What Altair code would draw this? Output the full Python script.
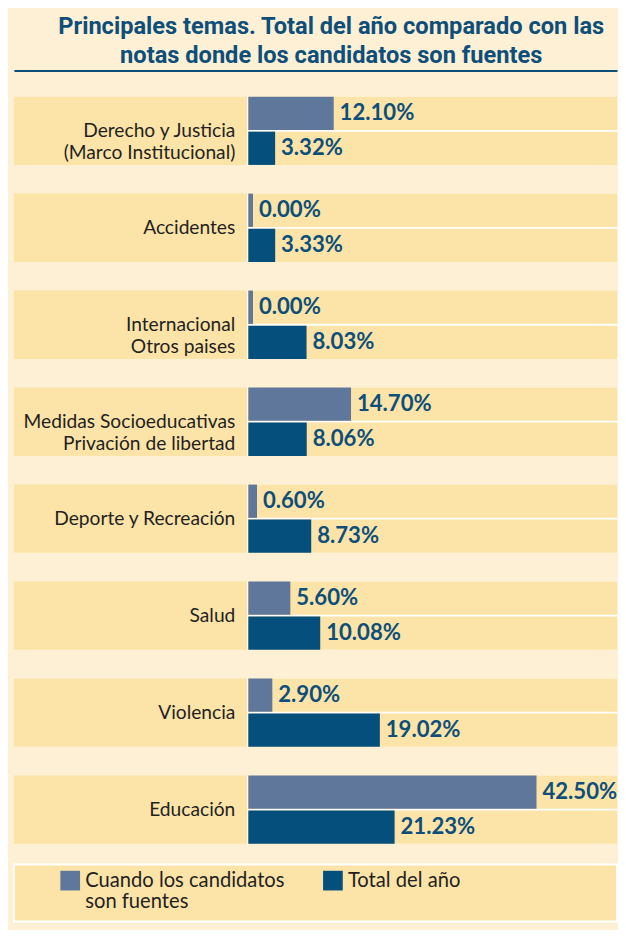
import altair as alt
import pandas as pd

# ---- data ----
categorias = [
    "Derecho y Justicia\n(Marco Institucional)",
    "Accidentes",
    "Internacional\nOtros paises",
    "Medidas Socioeducativas\nPrivación de libertad",
    "Deporte y Recreación",
    "Salud",
    "Violencia",
    "Educación",
]
series = ["Cuando los candidatos son fuentes", "Total del año"]
candidatos = [12.10, 0.00, 0.00, 14.70, 0.60, 5.60, 2.90, 42.50]
total_anio = [3.32, 3.33, 8.03, 8.06, 8.73, 10.08, 19.02, 21.23]

titulo = ["Principales temas. Total del año comparado con las",
          "notas donde los candidatos son fuentes"]

# ---- styles ----
BG_LIGHT = "#fdf0d4"
BAND = "#fce4a9"
C_CAND = "#5f779b"
C_TOTAL = "#044f7b"
BLUE = "#0d4f7a"
TXT = "#231f20"

rows = []
for c, a, b in zip(categorias, candidatos, total_anio):
    rows.append({"categoria": c, "serie": series[0], "valor": a})
    rows.append({"categoria": c, "serie": series[1], "valor": b})
df = pd.DataFrame(rows)
cats_df = pd.DataFrame({"categoria": categorias})

# x scale: negative part of the domain leaves room for the category labels
XMIN, XMAX = -35.84, 54.57
BASE = -0.7      # bar baseline (slightly left of zero so 0% shows a sliver)
CELL_END = -0.85 # end of the label cell
LABEL_X = -2.65

xs = alt.Scale(domain=[XMIN, XMAX], nice=False, zero=False)
AX = alt.Axis(orient="top", labels=False, ticks=False, grid=False,
              domainColor=BLUE, domainWidth=2, title=None)
Y = alt.Y("categoria:N", sort=categorias, axis=None,
          scale=alt.Scale(paddingInner=0.296, paddingOuter=0.236, align=0.57))
YO = alt.YOffset("serie:N", sort=series,
                 scale=alt.Scale(paddingInner=0.05, paddingOuter=0))

label_cell = alt.Chart(cats_df).mark_bar(color=BAND).encode(
    y=Y,
    x=alt.X(datum=XMIN, scale=xs, axis=AX),
    x2=alt.datum(CELL_END),
)
white_band = alt.Chart(cats_df).mark_bar(color="white").encode(
    y=Y,
    x=alt.X(datum=CELL_END, scale=xs, axis=AX),
    x2=alt.datum(XMAX),
)
bar_cells = alt.Chart(df).mark_bar(color=BAND).encode(
    y=Y, yOffset=YO,
    x=alt.X(datum=BASE, scale=xs, axis=AX),
    x2=alt.datum(XMAX),
)
bars = alt.Chart(df).mark_bar().encode(
    y=Y, yOffset=YO,
    x=alt.X("valor:Q", scale=xs, axis=AX),
    x2=alt.datum(BASE),
    color=alt.Color(
        "serie:N",
        scale=alt.Scale(domain=series, range=[C_CAND, C_TOTAL]),
        legend=alt.Legend(
            title=None, orient="none", legendX=47, legendY=813,
            direction="horizontal", columns=2, columnPadding=38, padding=0,
            symbolType="square", symbolSize=400, symbolStrokeWidth=0,
            symbolOpacity=1,
            labelFont="Lato", labelFontSize=20.5,
            labelColor=TXT, labelLimit=400, labelOffset=5,
            labelExpr="datum.label == 'Cuando los candidatos son fuentes' ? ['Cuando los candidatos', 'son fuentes'] : [datum.label, ' ']",
        ),
    ),
)
valores = alt.Chart(df).transform_calculate(
    etiqueta="format(datum.valor, '.2f') + '%'"
).mark_text(
    align="left", baseline="middle", dx=6, font="Lato", fontWeight="bold",
    fontSize=22.5, color=BLUE,
).encode(
    y=Y, yOffset=YO,
    x=alt.X("valor:Q", scale=xs, axis=AX),
    text="etiqueta:N",
)
etiquetas = alt.Chart(cats_df).mark_text(
    align="right", baseline="middle", lineBreak="\n", font="Lato",
    fontSize=19.5, color=TXT, lineHeight=23,
).encode(
    y=Y,
    x=alt.X(datum=LABEL_X, scale=xs, axis=AX),
    text="categoria:N",
)

top = alt.layer(label_cell, white_band, bar_cells, bars, valores, etiquetas).properties(
    width=613, height=806
)

legend_band = alt.Chart(cats_df).mark_point(opacity=0).properties(
    width=613, height=58,
    view=alt.ViewBackground(fill=BAND, stroke="white", strokeWidth=2),
)

chart = alt.vconcat(top, legend_band, spacing=0).properties(
    title=alt.TitleParams(
        text=titulo, font="Roboto", fontWeight="bold",
        fontSize=24, color=BLUE, lineHeight=29, anchor="middle", offset=3,
        dx=16,
    ),
    background=BG_LIGHT,
    padding={"left": 5, "top": 0, "right": 0, "bottom": 0},
).configure(
    style={"guide-label": {"lineHeight": 22}}
).configure_view(strokeWidth=0)

chart.save("out.html", embed_options={"renderer": "svg", "actions": False})
